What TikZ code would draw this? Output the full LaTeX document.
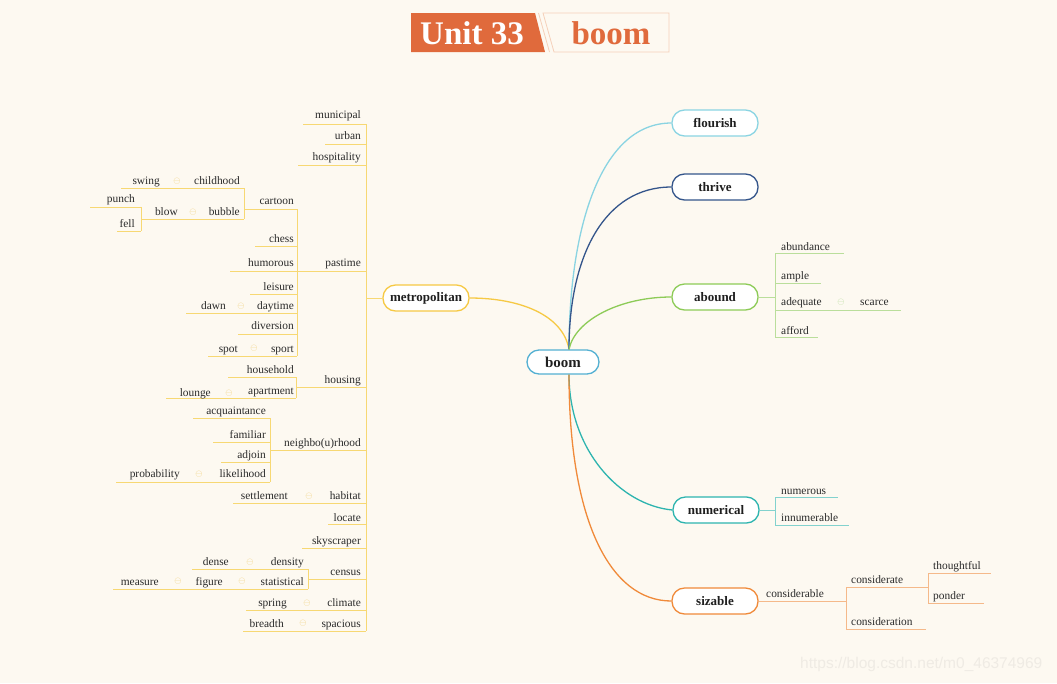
\documentclass[tikz,border=0pt]{standalone}
\usepackage{fontspec}
\setmainfont{Liberation Serif}
\newfontfamily\wmfont{Liberation Sans}
\definecolor{bg}{RGB}{253,249,241}
\definecolor{txt}{RGB}{42,42,42}
\definecolor{ttl}{RGB}{224,106,60}
\definecolor{ttll}{RGB}{245,208,185}
\definecolor{cboom}{RGB}{84,176,210}
\definecolor{cflo}{RGB}{138,212,226}
\definecolor{cthr}{RGB}{52,85,139}
\definecolor{cabo}{RGB}{141,203,87}
\definecolor{cabol}{RGB}{186,222,155}
\definecolor{cnum}{RGB}{45,180,175}
\definecolor{cnuml}{RGB}{130,210,206}
\definecolor{csiz}{RGB}{240,138,58}
\definecolor{csizl}{RGB}{245,185,138}
\definecolor{cmet}{RGB}{246,201,68}
\definecolor{cmetl}{RGB}{247,216,115}
\definecolor{csym}{RGB}{240,205,115}
\definecolor{csymg}{RGB}{180,218,150}
\definecolor{wm}{RGB}{239,235,228}
\begin{document}
\begin{tikzpicture}[x=1pt,y=-1pt,
  lf/.style={font=\fontsize{11.4}{13}\selectfont, text=txt, inner sep=0pt},
  lfl/.style={lf, anchor=base east},
  lfr/.style={lf, anchor=base west},
  sym/.style={font=\fontsize{9}{9}\selectfont, inner sep=0pt},
  pill/.style={draw, fill=white, rounded corners=12.5pt, minimum width=86pt, minimum height=26pt,
    line width=1.3pt, font=\bfseries\fontsize{13}{15}\selectfont, text=black!88, inner sep=0pt},
  yl/.style={draw=cmetl, line width=0.9pt},
  gl/.style={draw=cabol, line width=0.9pt},
  tl/.style={draw=cnuml, line width=0.9pt},
  ol/.style={draw=csizl, line width=0.9pt},
  conn/.style={line width=1.3pt}
]
\fill[bg] (0,0) rectangle (1057,683);
\useasboundingbox (0,0) rectangle (1057,683);

% ---------- title ----------
\fill[ttl] (411,13) -- (535,13) -- (545,52) -- (411,52) -- cycle;
\draw[ttll, line width=0.8pt] (538.5,13) -- (549.5,52);
\draw[ttll, line width=0.8pt] (543,13) -- (669,13) -- (669,52) -- (554,52) -- cycle;
\node[font=\bfseries\fontsize{33}{36}\selectfont, text=white, inner sep=0pt] (unit) at (472,33) {Unit 33};
\node[font=\bfseries\fontsize{33}{36}\selectfont, text=ttl, inner sep=0pt] (tword) at (611,33) {boom};

% ---------- main nodes ----------
\node[pill, draw=cboom, font=\bfseries\fontsize{15}{17}\selectfont, minimum width=72pt, minimum height=24pt, rounded corners=12pt] (boom) at (563,362) {boom};
\node[pill, draw=cflo] (flourish) at (715,123) {flourish};
\node[pill, draw=cthr] (thrive) at (715,187) {thrive};
\node[pill, draw=cabo] (abound) at (715,297) {abound};
\node[pill, draw=cnum] (numerical) at (716,510) {numerical};
\node[pill, draw=csiz] (sizable) at (715,601) {sizable};
\node[pill, draw=cmet] (metro) at (426,298) {metropolitan};

% ---------- connectors ----------
\draw[conn, cmet] ([xshift=6pt]boom.north) .. controls (563,315) and (520,298) .. (metro.east);
\draw[conn, cflo] ([xshift=6pt]boom.north) .. controls (569,230) and (600,123) .. (flourish.west);
\draw[conn, cthr] ([xshift=6pt]boom.north) .. controls (569,255) and (605,187) .. (thrive.west);
\draw[conn, cabo] ([xshift=6pt]boom.north) .. controls (575,320) and (620,297) .. (abound.west);
\draw[conn, cnum] ([xshift=6pt]boom.south) .. controls (569,450) and (620,505) .. (numerical.west);
\draw[conn, csiz] ([xshift=6pt]boom.south) .. controls (569,520) and (610,601) .. (sizable.west);

% ---------- left tree lines ----------
\coordinate (spine) at (366,298);
\draw[yl] (metro.west) -- (spine);
\draw[yl] (366,124) -- (366,631);
\draw[yl] (303,124) -- (366,124);
\draw[yl] (325,144) -- (366,144);
\draw[yl] (298,165) -- (366,165);
\draw[yl] (230,271) -- (366,271);
\draw[yl] (297,209) -- (297,356);
\draw[yl] (244,209) -- (297,209);
\draw[yl] (244,188) -- (244,219);
\draw[yl] (121,188) -- (244,188);
\draw[yl] (141,219) -- (244,219);
\draw[yl] (141,207) -- (141,231);
\draw[yl] (90,207) -- (141,207);
\draw[yl] (117,231) -- (141,231);
\draw[yl] (255,246) -- (297,246);
\draw[yl] (250,294) -- (297,294);
\draw[yl] (186,313) -- (297,313);
\draw[yl] (238,334) -- (297,334);
\draw[yl] (208,356) -- (297,356);
\draw[yl] (296,387) -- (366,387);
\draw[yl] (296,377) -- (296,398);
\draw[yl] (228,377) -- (296,377);
\draw[yl] (166,398) -- (296,398);
\draw[yl] (270,450) -- (366,450);
\draw[yl] (270,418) -- (270,482);
\draw[yl] (193,418) -- (270,418);
\draw[yl] (213,442) -- (270,442);
\draw[yl] (221,462) -- (270,462);
\draw[yl] (116,482) -- (270,482);
\draw[yl] (233,503) -- (366,503);
\draw[yl] (328,524) -- (366,524);
\draw[yl] (302,548) -- (366,548);
\draw[yl] (308,579) -- (366,579);
\draw[yl] (308,569) -- (308,589);
\draw[yl] (192,569) -- (308,569);
\draw[yl] (113,589) -- (308,589);
\draw[yl] (246,610) -- (366,610);
\draw[yl] (243,631) -- (366,631);

% ---------- left tree texts ----------
\node[lfl] (municipal) at (361,118) {municipal};
\node[lfl] (urban) at (361,139) {urban};
\node[lfl] (hospitality) at (361,160) {hospitality};
\node[lfl] (pastime) at (361,266) {pastime};
\node[lfl] (cartoon) at (294,204) {cartoon};
\node[lfl] (childhood) at (240,184) {childhood};
\node[lfl] (swing) at (160,184) {swing};
\node[sym, text=csym] (s1) at (177,181) {$\ominus$};
\node[lfl] (bubble) at (240,215) {bubble};
\node[lfl] (blow) at (178,215) {blow};
\node[sym, text=csym] (s2) at (193,212) {$\ominus$};
\node[lfl] (punch) at (135,202) {punch};
\node[lfl] (fell) at (135,227) {fell};
\node[lfl] (chess) at (294,242) {chess};
\node[lfl] (humorous) at (294,266) {humorous};
\node[lfl] (leisure) at (294,290) {leisure};
\node[lfl] (daytime) at (294,309) {daytime};
\node[lfl] (dawn) at (226,309) {dawn};
\node[sym, text=csym] (s3) at (241,306) {$\ominus$};
\node[lfl] (diversion) at (294,329) {diversion};
\node[lfl] (sport) at (294,352) {sport};
\node[lfl] (spot) at (238,352) {spot};
\node[sym, text=csym] (s4) at (254,348) {$\ominus$};
\node[lfl] (household) at (294,373) {household};
\node[lfl] (housing) at (361,383) {housing};
\node[lfl] (apartment) at (294,394) {apartment};
\node[lfl] (lounge) at (211,396) {lounge};
\node[sym, text=csym] (s5) at (229,393) {$\ominus$};
\node[lfl] (acquaintance) at (266,414) {acquaintance};
\node[lfl] (familiar) at (266,438) {familiar};
\node[lfl] (adjoin) at (266,458) {adjoin};
\node[lfl] (neighbourhood) at (361,446) {neighbo(u)rhood};
\node[lfl] (likelihood) at (266,477) {likelihood};
\node[lfl] (probability) at (180,477) {probability};
\node[sym, text=csym] (s6) at (199,474) {$\ominus$};
\node[lfl] (habitat) at (361,499) {habitat};
\node[lfl] (settlement) at (288,499) {settlement};
\node[sym, text=csym] (s7) at (309,496) {$\ominus$};
\node[lfl] (locate) at (361,521) {locate};
\node[lfl] (skyscraper) at (361,544) {skyscraper};
\node[lfl] (census) at (361,575) {census};
\node[lfl] (density) at (304,565) {density};
\node[lfl] (dense) at (229,565) {dense};
\node[sym, text=csym] (s8) at (250,562) {$\ominus$};
\node[lfl] (statistical) at (304,585) {statistical};
\node[lfl] (figure) at (223,585) {figure};
\node[sym, text=csym] (s9) at (242,581) {$\ominus$};
\node[lfl] (measure) at (159,585) {measure};
\node[sym, text=csym] (s10) at (178,581) {$\ominus$};
\node[lfl] (climate) at (361,606) {climate};
\node[lfl] (spring) at (287,606) {spring};
\node[sym, text=csym] (s11) at (307,603) {$\ominus$};
\node[lfl] (spacious) at (361,627) {spacious};
\node[lfl] (breadth) at (284,627) {breadth};
\node[sym, text=csym] (s12) at (303,623) {$\ominus$};

% ---------- abound ----------
\coordinate (aspine) at (775,297);
\draw[gl] (abound.east) -- (aspine);
\draw[gl] (775,253) -- (775,337);
\draw[gl] (775,253) -- (844,253);
\draw[gl] (775,283) -- (821,283);
\draw[gl] (775,310) -- (901,310);
\draw[gl] (775,337) -- (818,337);
\node[lfr] (abundance) at (781,250) {abundance};
\node[lfr] (ample) at (781,279) {ample};
\node[lfr] (adequate) at (781,305) {adequate};
\node[sym, text=csymg] (s13) at (841,302) {$\ominus$};
\node[lfr] (scarce) at (860,305) {scarce};
\node[lfr] (afford) at (781,334) {afford};

% ---------- numerical ----------
\coordinate (nspine) at (775,510);
\draw[tl] (numerical.east) -- (nspine);
\draw[tl] (775,497) -- (775,525);
\draw[tl] (775,497) -- (838,497);
\draw[tl] (775,525) -- (849,525);
\node[lfr] (numerous) at (781,494) {numerous};
\node[lfr] (innumerable) at (781,521) {innumerable};

% ---------- sizable ----------
\coordinate (sspine) at (846,601);
\draw[ol] (sizable.east) -- (sspine);
\draw[ol] (846,587) -- (846,629);
\draw[ol] (846,587) -- (928,587);
\draw[ol] (846,629) -- (926,629);
\draw[ol] (928,573) -- (928,603);
\draw[ol] (928,573) -- (991,573);
\draw[ol] (928,603) -- (984,603);
\node[lfr] (considerable) at (766,597) {considerable};
\node[lfr] (considerate) at (851,583) {considerate};
\node[lfr] (thoughtful) at (933,569) {thoughtful};
\node[lfr] (ponder) at (933,599) {ponder};
\node[lfr] (consideration) at (851,625) {consideration};

% ---------- watermark ----------
\node[anchor=west, inner sep=0pt, text=wm, font=\wmfont\fontsize{15.5}{17}\selectfont] (wmark) at (800,664) {https://blog.csdn.net/m0\_46374969};
\end{tikzpicture}
\end{document}
